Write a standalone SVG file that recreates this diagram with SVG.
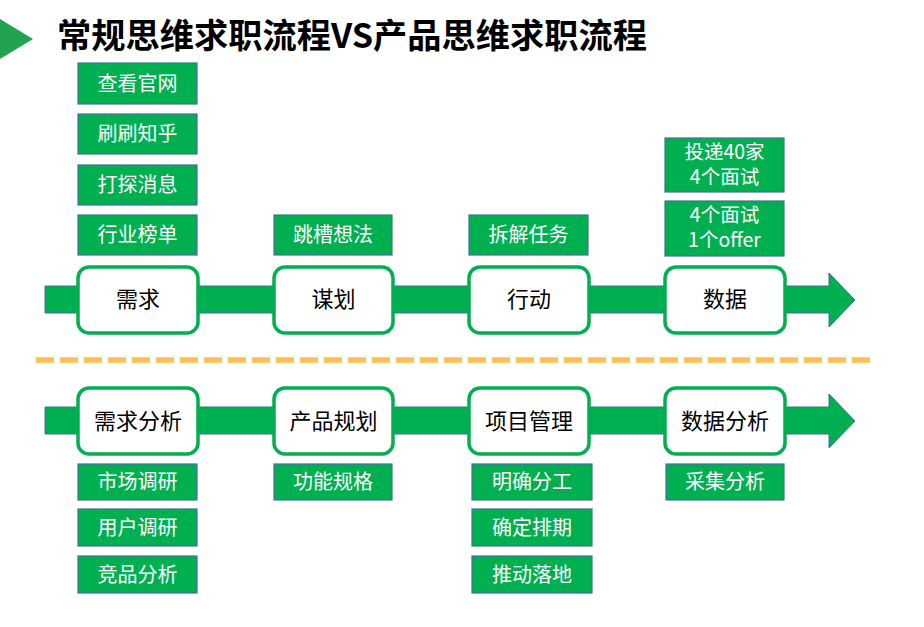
<svg xmlns="http://www.w3.org/2000/svg" width="924" height="627" viewBox="0 0 924 627">
<style>
text{font-family:"Noto Sans CJK SC","Noto Sans",sans-serif;text-anchor:middle}
.tag rect{fill:#00b050;stroke:#41719c;stroke-width:1.2}
.tag text{fill:#ffffff;font-size:20px}
.tag text.two{font-size:19.5px}
.node rect{fill:#ffffff;stroke:#00b050;stroke-width:3.5}
.node text{fill:#000000;font-size:22px}
.bar{fill:#00b050;stroke:#41719c;stroke-width:1}
</style>
<rect width="924" height="627" fill="#ffffff"/>
<polygon points="0,19 33,39 0,59" fill="#21a34f"/>
<text x="57" y="48" textLength="590" lengthAdjust="spacingAndGlyphs" style="text-anchor:start;font-size:34px;font-weight:bold;fill:#000">常规思维求职流程VS产品思维求职流程</text>

<g id="connectors">
<polygon class="bar" points="45,286 829,286 829,273 855,300 829,327 829,313 45,313"/>
<polygon class="bar" points="45,407 829,407 829,394 855,421 829,448 829,434 45,434"/>
</g>
<line x1="36" y1="360" x2="870" y2="360" stroke="#ffbf50" stroke-width="5.5" stroke-dasharray="18 6"/>

<g id="node-xuqiu" class="node"><rect x="78" y="267" width="120" height="66" rx="11"/><text x="138" y="307">需求</text></g>
<g id="node-mouhua" class="node"><rect x="274" y="267" width="119" height="66" rx="11"/><text x="333.5" y="307">谋划</text></g>
<g id="node-xingdong" class="node"><rect x="469" y="267" width="120" height="66" rx="11"/><text x="529" y="307">行动</text></g>
<g id="node-shuju" class="node"><rect x="665" y="267" width="120" height="66" rx="11"/><text x="725" y="307">数据</text></g>

<g id="node-xuqiufenxi" class="node"><rect x="78" y="388" width="120" height="66" rx="11"/><text x="138" y="429">需求分析</text></g>
<g id="node-chanpinguihua" class="node"><rect x="274" y="388" width="119" height="66" rx="11"/><text x="333.5" y="429">产品规划</text></g>
<g id="node-xiangmuguanli" class="node"><rect x="469" y="388" width="120" height="66" rx="11"/><text x="529" y="429">项目管理</text></g>
<g id="node-shujufenxi" class="node"><rect x="665" y="388" width="120" height="66" rx="11"/><text x="725" y="429">数据分析</text></g>

<g id="tag-chakan" class="tag"><rect x="78" y="63" width="119" height="41"/><text x="137.5" y="90.5">查看官网</text></g>
<g id="tag-shuashua" class="tag"><rect x="78" y="114" width="119" height="40"/><text x="137.5" y="141">刷刷知乎</text></g>
<g id="tag-datan" class="tag"><rect x="78" y="165" width="119" height="40"/><text x="137.5" y="192">打探消息</text></g>
<g id="tag-hangye" class="tag"><rect x="78" y="215" width="119" height="40"/><text x="137.5" y="242">行业榜单</text></g>
<g id="tag-tiaocao" class="tag"><rect x="274" y="215" width="118" height="40"/><text x="333" y="242">跳槽想法</text></g>
<g id="tag-chaijie" class="tag"><rect x="469" y="215" width="119" height="40"/><text x="528.5" y="242">拆解任务</text></g>
<g id="tag-toudi" class="tag"><rect x="665" y="138" width="119" height="54"/><text class="two"><tspan x="724.5" y="159">投递40家</tspan><tspan x="724.5" y="184">4个面试</tspan></text></g>
<g id="tag-offer" class="tag"><rect x="665" y="201" width="119" height="55"/><text class="two"><tspan x="724.5" y="222">4个面试</tspan><tspan x="724.5" y="247">1个offer</tspan></text></g>

<g id="tag-shichang" class="tag"><rect x="78" y="464" width="119" height="36"/><text x="137.5" y="489">市场调研</text></g>
<g id="tag-yonghu" class="tag"><rect x="78" y="509" width="119" height="37"/><text x="137.5" y="534.5">用户调研</text></g>
<g id="tag-jingpin" class="tag"><rect x="78" y="556" width="119" height="37"/><text x="137.5" y="581.5">竞品分析</text></g>
<g id="tag-gongneng" class="tag"><rect x="274" y="464" width="118" height="36"/><text x="333" y="489">功能规格</text></g>
<g id="tag-mingque" class="tag"><rect x="472" y="464" width="120" height="36"/><text x="532" y="489">明确分工</text></g>
<g id="tag-queding" class="tag"><rect x="472" y="509" width="120" height="37"/><text x="532" y="534.5">确定排期</text></g>
<g id="tag-tuidong" class="tag"><rect x="472" y="556" width="120" height="37"/><text x="532" y="581.5">推动落地</text></g>
<g id="tag-caiji" class="tag"><rect x="666" y="464" width="118" height="36"/><text x="725" y="489">采集分析</text></g>
</svg>
